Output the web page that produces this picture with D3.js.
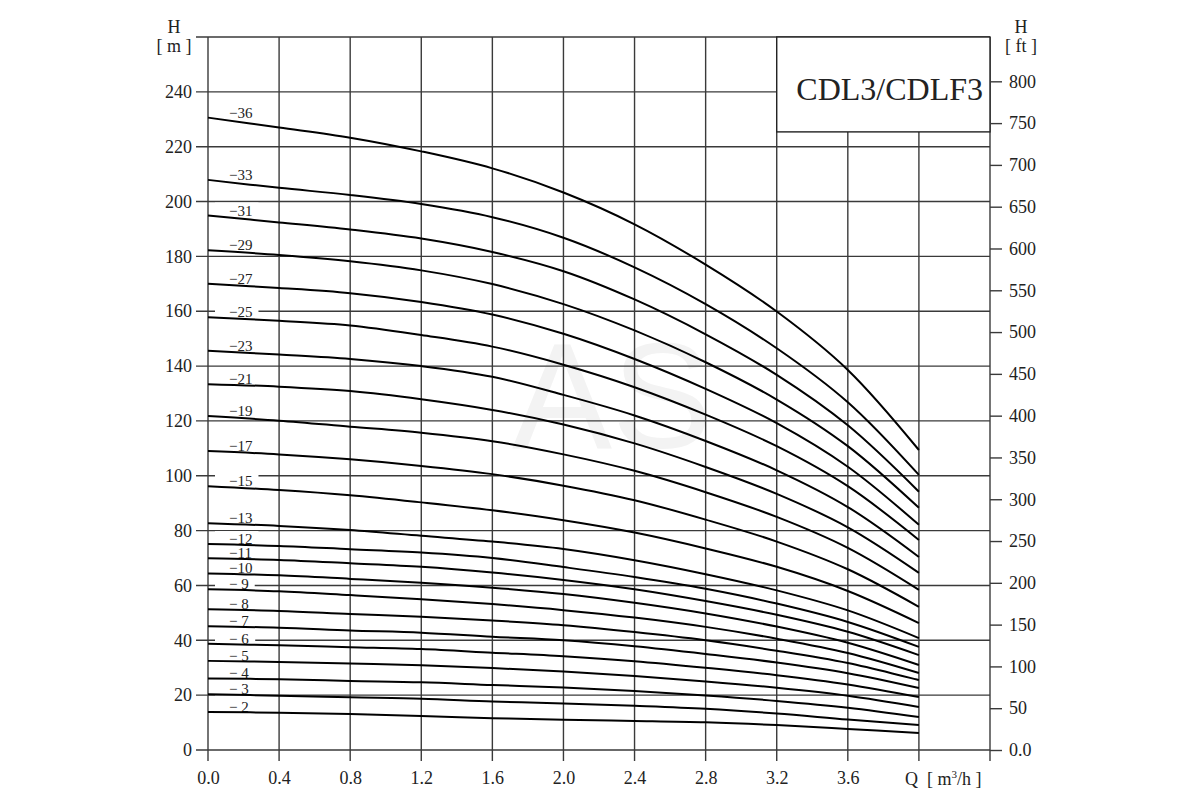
<!DOCTYPE html>
<html>
<head>
<meta charset="utf-8">
<script src="https://cdn.jsdelivr.net/npm/d3@7/dist/d3.min.js"></script>
<style>
  body { margin: 0; background: #fff; }
  text { font-family: "Liberation Serif", "DejaVu Serif", serif; fill: #222; }
</style>
</head>
<body>
<script>
// flow points (m3/h) where each curve was read
const flow = [0, 0.4, 0.8, 1.2, 1.6, 2.0, 2.4, 2.8, 3.2, 3.6, 4.0]

// head in metres, one array per stage count
const h36 = [230.6, 227.0, 223.3, 218.3, 212.1, 203.3, 191.7, 177.0, 159.9, 138.6, 109.4]
const h33 = [207.9, 205.0, 202.4, 199.1, 194.3, 186.8, 176.0, 162.6, 146.5, 126.8, 100.3]
const h31 = [194.9, 192.4, 189.8, 186.5, 181.6, 174.6, 164.3, 151.6, 136.8, 118.4, 94.2]
const h29 = [182.2, 180.5, 178.2, 174.9, 169.9, 162.6, 153.0, 141.4, 127.8, 110.8, 88.3]
const h27 = [170.0, 168.5, 166.6, 163.4, 158.8, 151.8, 142.6, 131.7, 119.2, 103.3, 82.1]
const h25 = [157.8, 156.5, 154.8, 151.3, 147.1, 140.5, 132.3, 122.3, 110.8, 96.2, 76.6]
const h23 = [145.6, 144.2, 142.6, 140.0, 136.1, 129.5, 122.0, 112.7, 102.0, 88.6, 70.4]
const h21 = [133.4, 132.5, 130.9, 127.9, 124.0, 118.7, 111.8, 103.2, 93.4, 81.2, 64.6]
const h19 = [121.8, 120.1, 117.9, 115.7, 112.6, 107.8, 101.8, 94.0, 85.0, 73.7, 58.4]
const h17 = [109.0, 107.8, 106.0, 103.6, 100.6, 96.4, 91.1, 84.0, 76.0, 65.9, 52.2]
const h15 = [96.2, 94.8, 92.9, 90.3, 87.4, 83.8, 79.3, 73.5, 66.8, 58.0, 46.3]
const h13 = [82.7, 81.7, 80.2, 78.1, 76.0, 73.3, 69.2, 64.1, 58.2, 50.9, 40.8]
const h12 = [75.1, 74.4, 73.2, 72.0, 70.0, 66.7, 63.1, 58.8, 53.4, 46.7, 37.6]
const h11 = [69.9, 69.3, 68.1, 66.8, 64.7, 62.0, 58.6, 54.3, 49.3, 43.1, 34.6]
const h10 = [64.4, 63.7, 62.4, 61.0, 59.2, 56.9, 53.7, 49.8, 45.0, 39.1, 31.0]
const h9 = [58.6, 57.9, 56.5, 55.0, 53.2, 51.0, 48.3, 44.9, 40.6, 35.4, 28.1]
const h8 = [51.3, 50.7, 49.6, 48.6, 47.2, 45.5, 43.0, 40.0, 36.2, 31.7, 25.5]
const h7 = [45.1, 44.6, 43.6, 42.8, 41.3, 40.0, 37.8, 35.0, 31.9, 28.0, 22.6]
const h6 = [38.7, 38.2, 37.5, 36.8, 35.5, 34.2, 32.4, 30.0, 27.3, 23.9, 19.3]
const h5 = [32.5, 32.1, 31.5, 30.9, 29.9, 28.6, 27.0, 25.0, 22.7, 19.8, 15.7]
const h4 = [26.1, 25.8, 25.2, 24.7, 23.7, 22.8, 21.5, 19.9, 17.9, 15.4, 12.0]
const h3 = [20.3, 19.8, 19.2, 18.7, 17.7, 17.0, 16.1, 15.0, 13.3, 11.1, 9.1]
const h2 = [13.9, 13.6, 13.1, 12.4, 11.6, 11.0, 10.6, 10.1, 9.1, 7.7, 6.2]

const stageLabels = ["\u221236", "\u221233", "\u221231", "\u221229", "\u221227", "\u221225", "\u221223",
  "\u221221", "\u221219", "\u221217", "\u221215", "\u221213", "\u221212", "\u221211", "\u221210",
  "\u2212 9", "\u2212 8", "\u2212 7", "\u2212 6", "\u2212 5", "\u2212 4", "\u2212 3", "\u2212 2"]
const stageHeads = [h36, h33, h31, h29, h27, h25, h23, h21, h19, h17, h15, h13, h12, h11, h10,
  h9, h8, h7, h6, h5, h4, h3, h2]

// axis ticks
const qTicks = [0, 0.4, 0.8, 1.2, 1.6, 2.0, 2.4, 2.8, 3.2, 3.6, 4.0, 4.4]
const qTickLabels = ["0.0", "0.4", "0.8", "1.2", "1.6", "2.0", "2.4", "2.8", "3.2", "3.6"]
const mTicks = [0, 20, 40, 60, 80, 100, 120, 140, 160, 180, 200, 220, 240, 260]
const ftTicks = [0, 50, 100, 150, 200, 250, 300, 350, 400, 450, 500, 550, 600, 650, 700, 750, 800]
const title = "CDL3/CDLF3"

const width = 1200, height = 800
const plotL = 208, plotR = 990, plotT = 37, plotB = 750
const M_TO_FT = 3.28084

const svg = d3.select("body").append("svg")
  .attr("width", width)
  .attr("height", height)

const x = d3.scaleLinear().domain([0, 4.4]).range([plotL, plotR])
const y = d3.scaleLinear().domain([0, 260]).range([plotB, plotT])
const yft = d3.scaleLinear().domain([0, 260 * M_TO_FT]).range([plotB, plotT])

const boxLeft = x(3.2), boxBottom = y(225.4)

/* faint watermark */
svg.append("text")
  .attr("x", 612).attr("y", 448)
  .attr("text-anchor", "middle")
  .style("font-family", "'Liberation Sans', Arial, sans-serif")
  .style("font-size", "150px")
  .style("fill", "#f3f3f3")
  .text("AS")

/* grid */
const grid = svg.append("g")
  .attr("stroke", "#3a3a3a")
  .attr("stroke-width", 1.4)

grid.selectAll("line.h")
  .data(mTicks)
  .enter().append("line")
  .attr("class", "h")
  .attr("x1", plotL - 12)
  .attr("x2", d => (y(d) < boxBottom && d < 260) ? boxLeft : plotR)
  .attr("y1", d => y(d))
  .attr("y2", d => y(d))

grid.selectAll("line.v")
  .data(qTicks)
  .enter().append("line")
  .attr("class", "v")
  .attr("x1", d => x(d))
  .attr("x2", d => x(d))
  .attr("y1", d => (x(d) > boxLeft + 1 && d < 4.4) ? boxBottom : plotT)
  .attr("y2", plotB + 11)

/* title box */
svg.append("rect")
  .attr("x", boxLeft).attr("y", plotT)
  .attr("width", plotR - boxLeft).attr("height", boxBottom - plotT)
  .attr("fill", "#fff")
  .attr("stroke", "#222")
  .attr("stroke-width", 1.4)

svg.append("text")
  .attr("x", 983).attr("y", 100)
  .attr("text-anchor", "end")
  .style("font-size", "32px")
  .text(title)

/* left axis (m) */
const yAxis = d3.axisLeft(y)
  .tickValues(mTicks.slice(0, -1))
  .tickSize(0)
  .tickPadding(16)

svg.append("g")
  .attr("transform", `translate(${plotL},0)`)
  .call(yAxis)
  .call(g => g.select(".domain").remove())
  .selectAll("text")
  .style("font-size", "18px")
  .style("font-family", "'Liberation Serif', serif")

/* right axis (ft) */
const ftAxis = d3.axisRight(yft)
  .tickValues(ftTicks)
  .tickSize(12)
  .tickPadding(7)
  .tickFormat(d => d === 0 ? "0.0" : d)

svg.append("g")
  .attr("transform", `translate(${plotR},0)`)
  .call(ftAxis)
  .call(g => g.select(".domain").remove())
  .call(g => g.selectAll("line").attr("stroke", "#3a3a3a").attr("stroke-width", 1.4))
  .selectAll("text")
  .style("font-size", "18px")
  .style("font-family", "'Liberation Serif', serif")

/* bottom axis (Q) */
const xAxis = d3.axisBottom(x)
  .tickValues(qTicks.slice(0, qTickLabels.length))
  .tickSize(0)
  .tickPadding(21)
  .tickFormat((d, i) => qTickLabels[i])

svg.append("g")
  .attr("transform", `translate(0,${plotB})`)
  .call(xAxis)
  .call(g => g.select(".domain").remove())
  .selectAll("text")
  .style("font-size", "18px")
  .style("font-family", "'Liberation Serif', serif")

const qTitle = svg.append("text")
  .attr("x", x(4.0) - 14).attr("y", 785)
  .style("font-size", "18px")
qTitle.append("tspan").text("Q")
qTitle.append("tspan").attr("dx", 9).text("[ m")
qTitle.append("tspan").attr("dy", -7).style("font-size", "11px").text("3")
qTitle.append("tspan").attr("dy", 7).text("/h ]")

/* axis titles */
const hm = svg.append("g").attr("text-anchor", "middle").style("font-size", "18px")
hm.append("text").attr("x", 174).attr("y", 33).text("H")
hm.append("text").attr("x", 174).attr("y", 52).text("[ m ]")
hm.append("text").attr("x", 1021).attr("y", 33).text("H")
hm.append("text").attr("x", 1021).attr("y", 52).text("[ ft ]")

/* stage labels with white backing over the grid */
const curves = stageLabels.map((label, i) => ({
  label,
  points: flow.map((q, j) => ({q, h: stageHeads[i][j]}))
}))

const labels = svg.append("g")
labels.selectAll("g")
  .data(curves)
  .enter().append("g")
  .each(function (d) {
    const g = d3.select(this)
    const base = y(d.points[0].h)
    const rect = g.append("rect").attr("fill", "#fff")
    const t = g.append("text")
      .attr("x", 229).attr("y", base)
      .style("font-size", "15px")
      .attr("xml:space", "preserve")
      .text(d.label)
    const bb = t.node().getBBox()
    rect.attr("x", 215).attr("y", base - 13)
      .attr("width", bb.x + bb.width + 6 - 215)
      .attr("height", 14)
  })

/* pump curves */
const line = d3.line()
  .x(d => x(d.q))
  .y(d => y(d.h))
  .curve(d3.curveCatmullRom.alpha(0.5))

svg.append("g")
  .selectAll("path")
  .data(curves)
  .enter().append("path")
  .attr("fill", "none")
  .attr("stroke", "#000")
  .attr("stroke-width", 2)
  .attr("d", d => line(d.points))
</script>
</body>
</html>
